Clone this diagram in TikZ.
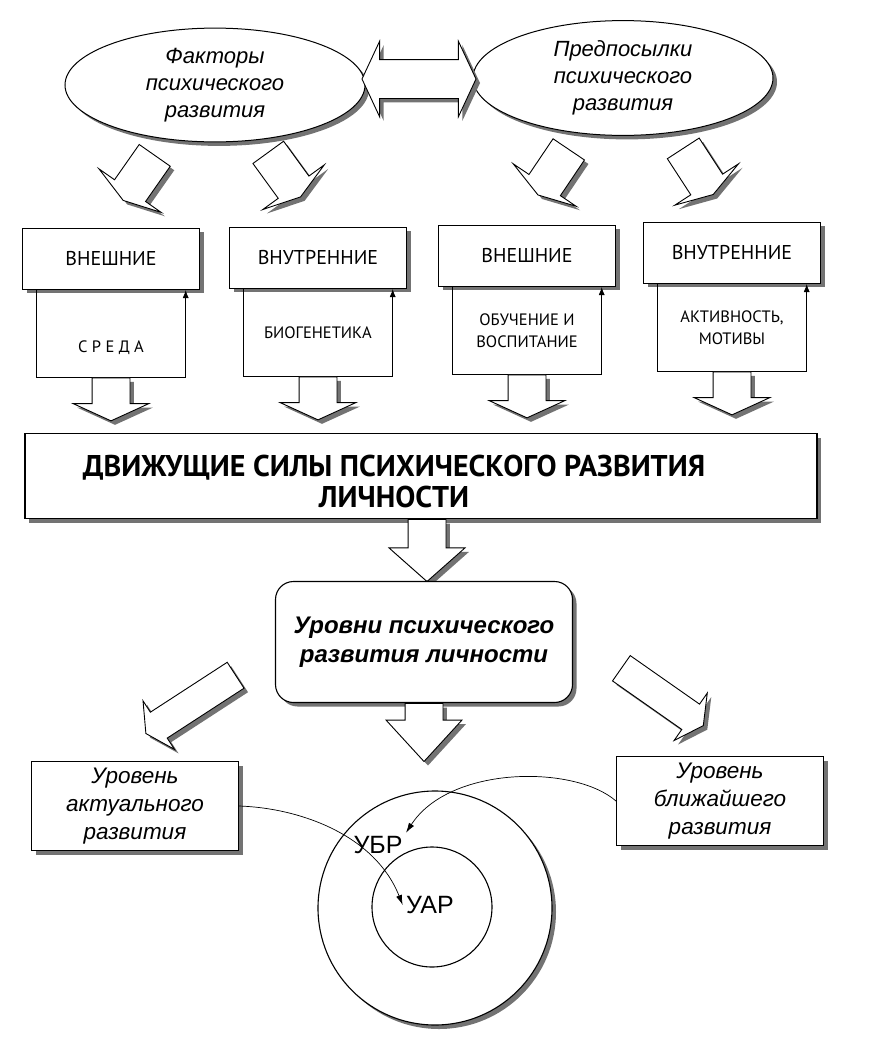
\documentclass[tikz,border=0pt]{standalone}
\usepackage{fontspec}
\setmainfont{Liberation Sans}
\setsansfont{PT Sans}
\usetikzlibrary{shapes.geometric,shapes.arrows,shadows,arrows.meta,positioning}

\tikzset{
  softshadow/.style={drop shadow={shadow xshift=4pt, shadow yshift=-4pt, fill=black!55, opacity=1}},
  oval/.style={ellipse, draw, fill=white, line width=1pt, minimum width=300pt, minimum height=106pt,
    softshadow, align=center, font=\fontsize{22}{27}\selectfont\itshape},
  capbox/.style={draw, fill=white, line width=1.1pt, minimum width=177pt, minimum height=61pt,
    softshadow, font=\sffamily\fontsize{20}{24}\selectfont},
  subbox/.style={minimum width=149pt, minimum height=87pt, align=center,
    font=\sffamily\fontsize{16.5}{22}\selectfont},
  fatarrow/.style={single arrow, draw, fill=white, line width=0.9pt, inner xsep=0pt, inner ysep=18.5pt,
    minimum width=75pt, single arrow head extend=19pt, softshadow},
  flatarrow/.style={fatarrow, minimum height=55pt, single arrow tip angle=145},
  thinarrow/.style={fatarrow, inner ysep=15pt, minimum width=57pt, single arrow head extend=13.5pt,
    single arrow tip angle=124},
  twinarrow/.style={double arrow, draw, fill=white, line width=0.9pt, inner xsep=0pt, inner ysep=19pt,
    minimum width=75pt, double arrow head extend=18.5pt, double arrow tip angle=130, softshadow},
  lowbox/.style={draw, fill=white, line width=1.1pt, minimum width=207pt, minimum height=89pt,
    softshadow, align=center, font=\fontsize{22.5}{28}\selectfont\itshape},
  uparrow/.style={line width=0.8pt, -{Latex[length=8pt,width=6pt]}},
  curvearrow/.style={line width=0.7pt, -{Latex[length=10pt,width=6pt]}},
}

\begin{document}
\begin{tikzpicture}[x=1pt, y=-1pt]
  \useasboundingbox (0,0) rectangle (872,1050);

  % factors and premises
  \node[oval] (factors) at (215,85) {Факторы\\психического\\развития};
  \node[oval] (premises) at (623,78) {Предпосылки\\психического\\развития};
  \node[twinarrow, minimum height=114pt] (swap) at (419,79) {};

  \node[flatarrow, rotate=-125, anchor=tail] (fa1) at (155,155) {};
  \node[flatarrow, rotate=-54, anchor=tail] (fa2) at (268,152) {};
  \node[flatarrow, rotate=-124, anchor=tail] (pa1) at (569,149) {};
  \node[flatarrow, rotate=-57, anchor=tail] (pa2) at (683,148) {};

  % four kinds of factors
  \node[subbox, anchor=north] (sreda) at (111,290) {\rule{0pt}{40pt}С Р Е Д А};
  \node[subbox, anchor=north] (biogen) at (318,289) {БИОГЕНЕТИКА};
  \node[subbox, anchor=north] (teach) at (527,287) {ОБУЧЕНИЕ И\\ВОСПИТАНИЕ};
  \node[subbox, anchor=north] (motives) at (732,284) {АКТИВНОСТЬ,\\МОТИВЫ};

  \node[capbox, above=0pt of sreda] (ext1) {ВНЕШНИЕ};
  \node[capbox, above=0pt of biogen] (int1) {ВНУТРЕННИЕ};
  \node[capbox, above=0pt of teach] (ext2) {ВНЕШНИЕ};
  \node[capbox, above=0pt of motives] (int2) {ВНУТРЕННИЕ};

  \foreach \s/\n in {sreda/1, biogen/2, teach/3, motives/4} {
    \draw[uparrow] (\s.north west) |- (\s.south east) -- (\s.north east);
    \node[fatarrow, rotate=-90, anchor=tail, minimum height=43pt, single arrow tip angle=131]
      (down\n) at (\s.south) {};
  }

  % driving forces
  \node[draw, fill=white, line width=1.1pt, minimum width=792pt, minimum height=85pt, softshadow]
    (forces) at (421,476) {};
  \node[align=center, font=\sffamily\bfseries\fontsize{30}{31}\selectfont] (forcestext) at (394,481)
    {ДВИЖУЩИЕ СИЛЫ ПСИХИЧЕСКОГО РАЗВИТИЯ\\ЛИЧНОСТИ};
  \node[fatarrow, rotate=-90, anchor=tail, minimum height=62pt, single arrow tip angle=97]
    (down5) at ([xshift=6pt]forces.south) {};

  % levels
  \node[draw, fill=white, rounded corners=18pt, line width=1.1pt, minimum width=297pt,
    minimum height=121pt, softshadow, align=center,
    font=\bfseries\itshape\fontsize{24}{29}\selectfont] (levels) at (424,642)
    {Уровни психического\\развития личности};
  \node[fatarrow, rotate=-90, anchor=tail, minimum height=58pt, single arrow tip angle=85]
    (down6) at (levels.south) {};
  \node[thinarrow, rotate=213, anchor=tail, minimum height=107pt] (toactual) at (236,675) {};
  \node[thinarrow, rotate=-35, anchor=tail, minimum height=100pt] (tonext) at (621,668) {};

  \node[lowbox] (actual) at (135,806) {Уровень\\актуального\\развития};
  \node[lowbox] (nearest) at (720,801) {Уровень\\ближайшего\\развития};

  % zones
  \node[circle, draw, fill=white, line width=1.1pt, minimum size=234pt, softshadow] (zonenear) at (435,908) {};
  \node[circle, draw, line width=1.1pt, minimum size=120pt] (zoneact) at (432,907) {};
  \node[font=\fontsize{25}{28}\selectfont] (ubr) at (378,845) {УБР};
  \node[font=\fontsize{25}{28}\selectfont] (uar) at (430,905) {УАР};

  \draw[curvearrow] (actual.east) .. controls (300,808) and (375,835) .. (uar.west);
  \draw[curvearrow] (nearest.west) .. controls (575,765) and (450,765) .. (ubr.north east);
\end{tikzpicture}
\end{document}
